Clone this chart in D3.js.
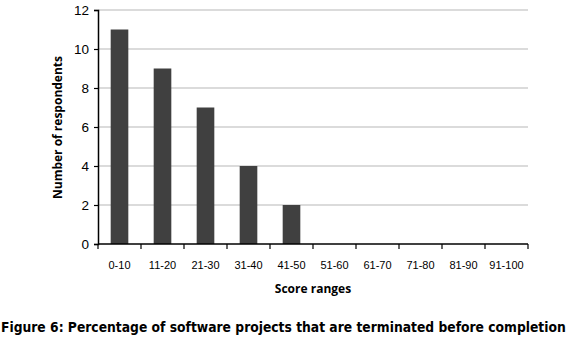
<!DOCTYPE html>
<html lang="en">
<head>
  <meta charset="UTF-8">
  <title>Score ranges</title>
  <script src="https://d3js.org/d3.v7.min.js"></script>
  <style>
    body { margin: 0; background: #fff; }
    svg { display: block; }
  </style>
</head>
<body>
  <svg id="chart"></svg>
  <script>
    const categories = ["0-10", "11-20", "21-30", "31-40", "41-50", "51-60", "61-70", "71-80", "81-90", "91-100"];
    const respondents = [11, 9, 7, 4, 2, 0, 0, 0, 0, 0];
    const yTicks = [0, 2, 4, 6, 8, 10, 12];

    const width = 571, height = 338;
    const margin = { left: 98, right: 43, top: 10, bottom: 94 };

    const svg = d3.select("#chart")
      .attr("width", width)
      .attr("height", height);

    const x = d3.scaleBand()
      .domain(categories)
      .range([margin.left, width - margin.right])
      .paddingInner(0.59)
      .paddingOuter(0.295);

    const y = d3.scaleLinear()
      .domain([0, 12])
      .range([height - margin.bottom, margin.top]);

    // gridlines
    svg.append("g")
      .selectAll("line")
      .data(yTicks.filter(d => d > 0))
      .join("line")
      .attr("x1", margin.left)
      .attr("x2", width - margin.right)
      .attr("y1", d => y(d))
      .attr("y2", d => y(d))
      .attr("stroke", "#b8b8b8")
      .attr("stroke-width", 1.2);

    // bars
    svg.append("g")
      .selectAll("rect")
      .data(categories.map((c, i) => ({ c, v: respondents[i] })))
      .join("rect")
      .attr("x", d => x(d.c))
      .attr("width", x.bandwidth())
      .attr("y", d => y(d.v))
      .attr("height", d => y(0) - y(d.v))
      .attr("fill", "#404040");

    // y axis
    const yAxis = svg.append("g")
      .attr("transform", `translate(${margin.left},0)`)
      .call(d3.axisLeft(y).tickValues(yTicks).tickSize(4).tickPadding(5));
    yAxis.select(".domain").attr("stroke", "#000").attr("stroke-width", 1.5);
    yAxis.selectAll(".tick line").attr("stroke", "#000").attr("stroke-width", 1.2);
    yAxis.selectAll("text")
      .attr("font-family", "Liberation Sans, Arial, sans-serif")
      .attr("font-size", 13.5)
      .attr("fill", "#000");

    // x axis: ticks at category boundaries
    const step = x.step();
    const boundaries = d3.range(categories.length + 1).map(i => margin.left + i * step);
    const xAxisG = svg.append("g");
    xAxisG.append("line")
      .attr("x1", margin.left)
      .attr("x2", width - margin.right)
      .attr("y1", y(0))
      .attr("y2", y(0))
      .attr("stroke", "#000")
      .attr("stroke-width", 1.5);
    xAxisG.selectAll(".xt")
      .data(boundaries)
      .join("line")
      .attr("class", "xt")
      .attr("x1", d => d)
      .attr("x2", d => d)
      .attr("y1", y(0))
      .attr("y2", y(0) + 5)
      .attr("stroke", "#000")
      .attr("stroke-width", 1.2);
    xAxisG.selectAll(".xl")
      .data(categories)
      .join("text")
      .attr("class", "xl")
      .attr("x", d => x(d) + x.bandwidth() / 2)
      .attr("y", y(0) + 25)
      .attr("text-anchor", "middle")
      .attr("font-family", "Liberation Sans, Arial, sans-serif")
      .attr("font-size", 11)
      .text(d => d);

    // axis titles
    svg.append("text")
      .attr("x", 313)
      .attr("y", 293)
      .attr("text-anchor", "middle")
      .attr("font-family", "Open Sans, DejaVu Sans, sans-serif")
      .attr("font-weight", "bold")
      .attr("font-size", 12)
      .text("Score ranges");

    svg.append("text")
      .attr("transform", `translate(62,${y(6) + 0.5}) rotate(-90)`)
      .attr("text-anchor", "middle")
      .attr("font-family", "Open Sans, DejaVu Sans, sans-serif")
      .attr("font-weight", "bold")
      .attr("font-size", 12)
      .text("Number of respondents");

    // caption: size the font so it spans the page width
    const caption = svg.append("text")
      .attr("x", 1)
      .attr("y", 332)
      .attr("font-family", "DejaVu Sans Condensed, DejaVu Sans, sans-serif")
      .attr("font-weight", "bold")
      .attr("font-size", 13)
      .text("Figure 6: Percentage of software projects that are terminated before completion");
    const capLen = caption.node().getComputedTextLength();
    caption.attr("font-size", 13 * 565 / capLen);
  </script>
</body>
</html>
